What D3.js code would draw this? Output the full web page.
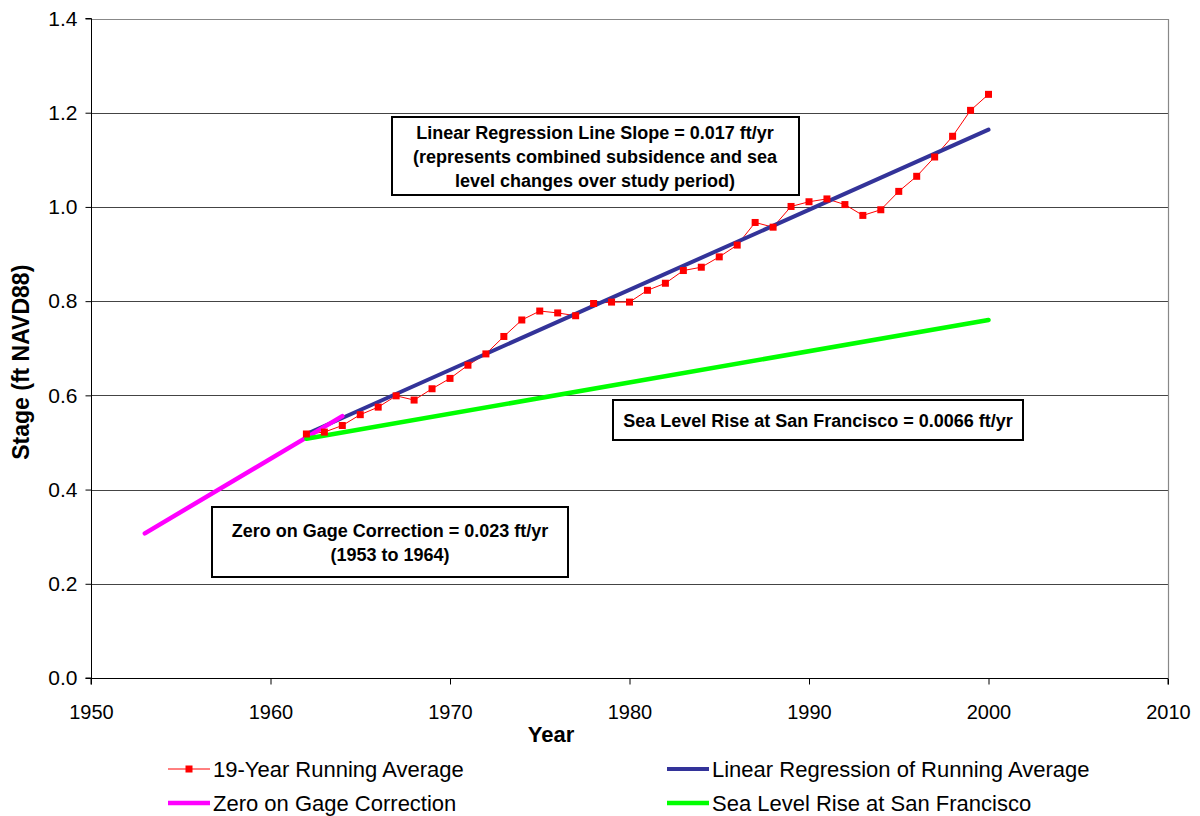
<!DOCTYPE html>
<html>
<head>
<meta charset="utf-8">
<script src="https://cdn.jsdelivr.net/npm/d3@7"></script>
<style>
  html, body { margin: 0; padding: 0; background: #fff; }
  svg { display: block; font-family: Arial, "Liberation Sans", sans-serif; }
</style>
</head>
<body>
<svg id="chart" width="1200" height="816"></svg>
<script>
// ---- Data ----
const years = [1962,1963,1964,1965,1966,1967,1968,1969,1970,1971,1972,1973,1974,1975,1976,1977,1978,1979,1980,
               1981,1982,1983,1984,1985,1986,1987,1988,1989,1990,1991,1992,1993,1994,1995,1996,1997,1998,1999,2000];
const runningAvg = [0.518,0.522,0.536,0.559,0.575,0.599,0.590,0.614,0.636,0.664,0.688,0.725,0.760,0.779,0.775,0.769,0.795,0.798,0.798,
                    0.823,0.838,0.865,0.872,0.894,0.919,0.967,0.957,1.001,1.011,1.017,1.005,0.982,0.994,1.033,1.065,1.106,1.150,1.205,1.239];
const regressionYears = [1962, 2000];
const regressionValues = [0.518, 1.164];
const gageYears = [1953, 1964];
const gageValues = [0.307, 0.556];
const seaYears = [1962, 2000];
const seaValues = [0.508, 0.760];
const xTicks = [1950,1960,1970,1980,1990,2000,2010];
const yTicks = [0,0.2,0.4,0.6,0.8,1.0,1.2,1.4];
const seriesNames = ["19-Year Running Average","Linear Regression of Running Average","Zero on Gage Correction","Sea Level Rise at San Francisco"];
const annotations = [
  {lines:["Linear Regression Line Slope = 0.017 ft/yr","(represents combined subsidence and sea","level changes over study period)"]},
  {lines:["Sea Level Rise at San Francisco = 0.0066 ft/yr"]},
  {lines:["Zero on Gage Correction = 0.023 ft/yr","(1953 to 1964)"]}
];

// ---- Layout ----
const svg = d3.select("#chart");
const L = 91, R = 1168, T = 18.5, B = 678;
const x = d3.scaleLinear().domain([1950, 2010]).range([L, R]);
const y = d3.scaleLinear().domain([0, 1.4]).range([B, T]);

const colors = {red:"#ff0000", blue:"#333399", magenta:"#ff00ff", green:"#00ff00"};

// gridlines
svg.append("g").selectAll("line").data(yTicks.filter(d => d > 0 && d < 1.4)).join("line")
  .attr("x1", L).attr("x2", R)
  .attr("y1", d => Math.round(y(d)) + 0.5).attr("y2", d => Math.round(y(d)) + 0.5)
  .attr("stroke", "#444").attr("stroke-width", 1);

// frame (top/right)
svg.append("path")
  .attr("d", `M${L},${Math.round(T)+0.5}H${Math.round(R)+0.5}V${B}`)
  .attr("fill","none").attr("stroke","#888").attr("stroke-width",1.2);

// axes
const xAxis = d3.axisBottom(x).tickValues(xTicks).tickFormat(d3.format("d")).tickSize(6).tickPadding(20);
const yAxis = d3.axisLeft(y).tickValues(yTicks).tickFormat(d3.format(".1f")).tickSize(6).tickPadding(8);
const gx = svg.append("g").attr("transform", `translate(0,${B + 0.5})`).call(xAxis);
const gy = svg.append("g").attr("transform", `translate(${L + 0.5},0)`).call(yAxis);
[gx, gy].forEach(g => {
  g.select(".domain").attr("stroke", "#000").attr("stroke-width", 1);
  g.selectAll(".tick line").attr("stroke", "#000");
  g.selectAll(".tick text").attr("fill", "#000")
    .attr("font-family", "Arial, 'Liberation Sans', sans-serif");
});
gx.selectAll(".tick text").attr("font-size", 20);
gy.selectAll(".tick text").attr("font-size", 21);
gx.select(".domain").attr("d", `M${L},6V0H${R}V6`);
gy.select(".domain").attr("d", `M-6,${T}H0V${B}H-6`);

// axis titles
svg.append("text").attr("x", 551).attr("y", 742).attr("text-anchor","middle")
  .attr("font-size", 22).attr("font-weight","bold").text("Year");
svg.append("text").attr("transform", `translate(29,${(T+B)/2 + 14}) rotate(-90)`).attr("text-anchor","middle")
  .attr("font-size", 23).attr("font-weight","bold").text("Stage (ft NAVD88)");

// series lines
const line = d3.line().x(d => x(d[0])).y(d => y(d[1]));
const runData = years.map((yr, i) => [yr, runningAvg[i]]);
svg.append("path").datum(runData).attr("d", line)
  .attr("fill","none").attr("stroke", colors.red).attr("stroke-width", 1);
svg.append("path").datum(regressionYears.map((yr,i)=>[yr, regressionValues[i]])).attr("d", line)
  .attr("fill","none").attr("stroke", colors.blue).attr("stroke-width", 4).attr("stroke-linecap","round");
svg.append("path").datum(gageYears.map((yr,i)=>[yr, gageValues[i]])).attr("d", line)
  .attr("fill","none").attr("stroke", colors.magenta).attr("stroke-width", 4.5).attr("stroke-linecap","round");
svg.append("path").datum(seaYears.map((yr,i)=>[yr, seaValues[i]])).attr("d", line)
  .attr("fill","none").attr("stroke", colors.green).attr("stroke-width", 4.5).attr("stroke-linecap","round");

// markers
const ms = 7;
svg.append("g").selectAll("rect").data(runData).join("rect")
  .attr("x", d => x(d[0]) - ms/2).attr("y", d => y(d[1]) - ms/2)
  .attr("width", ms).attr("height", ms).attr("fill", colors.red);

// annotation boxes
const boxes = [
  {x0:392, y0:117, x1:799, y1:195, cx:595, base:[139,163,187]},
  {x0:613, y0:400, x1:1023, y1:440, cx:818, base:[427]},
  {x0:212, y0:507, x1:568, y1:577, cx:390, base:[537,561]}
];
annotations.forEach((a, i) => {
  const b = boxes[i];
  svg.append("rect").attr("x", b.x0).attr("y", b.y0).attr("width", b.x1 - b.x0).attr("height", b.y1 - b.y0)
    .attr("fill", "#fff").attr("stroke", "#000").attr("stroke-width", 2);
  a.lines.forEach((t, j) => {
    svg.append("text").attr("x", b.cx).attr("y", b.base[j]).attr("text-anchor","middle")
      .attr("font-size", 18).attr("font-weight","bold").text(t);
  });
});

// legend
const leg = [
  {x:168, y:769, color:colors.red, w:1, marker:true, name:seriesNames[0]},
  {x:667, y:769, color:colors.blue, w:4, marker:false, name:seriesNames[1]},
  {x:168, y:803, color:colors.magenta, w:4.5, marker:false, name:seriesNames[2]},
  {x:667, y:803, color:colors.green, w:4.5, marker:false, name:seriesNames[3]}
];
leg.forEach(l => {
  const g = svg.append("g");
  g.append("line").attr("x1", l.x).attr("x2", l.x + 42).attr("y1", l.y).attr("y2", l.y)
    .attr("stroke", l.color).attr("stroke-width", l.w);
  if (l.marker) g.append("rect").attr("x", l.x + 21 - 3.5).attr("y", l.y - 3.5).attr("width", 7).attr("height", 7).attr("fill", l.color);
  g.append("text").attr("x", l.x + 45).attr("y", l.y + 7.5).attr("font-size", 22).text(l.name);
});
</script>
</body>
</html>
